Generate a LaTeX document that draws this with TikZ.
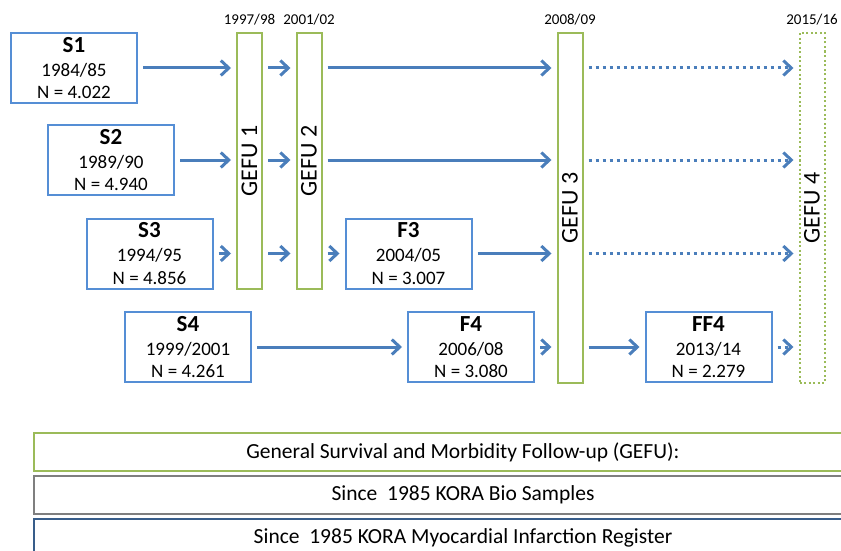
\documentclass[tikz,border=0pt]{standalone}
\usepackage{fontspec}
\setmainfont{Carlito}
\usepackage{graphicx}
\usepackage{tikz}
\usetikzlibrary{positioning,arrows.meta}
\definecolor{boxblue}{RGB}{85,142,213}
\definecolor{arrblue}{RGB}{74,126,187}
\definecolor{gefugreen}{RGB}{155,187,89}
\definecolor{regblue}{RGB}{56,93,138}
\definecolor{biogrey}{RGB}{127,127,127}
\tikzstyle{study} = [draw=boxblue, line width=2pt, fill=white, minimum width=126pt, minimum height=70pt, inner sep=0pt, align=center, font=\fontsize{19}{22.5}\selectfont]
\tikzstyle{gefu} = [draw=gefugreen, line width=2pt, minimum width=25pt, inner sep=0pt, font=\fontsize{24}{24}\selectfont]
\tikzstyle{gefuplan} = [gefu, dash pattern=on 2pt off 2.5pt]
\tikzstyle{year} = [inner sep=0pt, font=\fontsize{15}{15}\selectfont]
\tikzstyle{band} = [line width=2.5pt, minimum width=858pt, minimum height=38pt, inner sep=0pt, font=\fontsize{21.5}{21.5}\selectfont]
\tikzstyle{arrow} = [draw=arrblue, line width=3pt, -{Straight Barb[length=8pt,width=15pt]}, shorten <=5pt, shorten >=5pt]
\tikzstyle{dotarrow} = [arrow, dash pattern=on 3pt off 4pt]
\newcommand{\studyhead}[1]{{\fontsize{23}{23}\selectfont\bfseries #1}}

\begin{document}
\begin{tikzpicture}[x=1pt, y=-1pt]
    \useasboundingbox (0,0) rectangle (841,551);
    \clip (0,0) rectangle (841,551);

    % surveys and follow-ups
    \node[study] (S1) at (74,68) {\studyhead{S1}\\[1.5pt]1984/85\\N = 4.022};
    \node[study] (S2) at (111,160) {\studyhead{S2}\\[1.5pt]1989/90\\N = 4.940};
    \node[study] (S3) at (149.5,253.5) {\studyhead{S3}\\[1.5pt]1994/95\\N = 4.856};
    \node[study] (S4) at (188,347) {\studyhead{S4}\\[1.5pt]1999/2001\\N = 4.261};
    \node[study] (F3) at (408.5,253.5) {\studyhead{F3}\\[1.5pt]2004/05\\N = 3.007};
    \node[study] (F4) at (471,347) {\studyhead{F4}\\[1.5pt]2006/08\\N = 3.080};
    \node[study] (FF4) at (708.5,347) {\studyhead{FF4}\\[1.5pt]2013/14\\N = 2.279};

    % GEFU bars
    \node[gefu, minimum height=256pt] (G1) at (249.5,161) {\rotatebox{90}{GEFU 1}};
    \node[gefu, minimum height=256pt] (G2) at (309,161) {\rotatebox{90}{GEFU 2}};
    \node[gefu, minimum height=350pt] (G3) at (570,208) {\rotatebox{90}{GEFU 3}};
    \node[gefuplan, minimum height=350pt] (G4) at (812,208) {\rotatebox{90}{GEFU 4}};
    \node[year, above=7pt of G1] (Y1) {1997/98};
    \node[year, above=7pt of G2] (Y2) {2001/02};
    \node[year, above=7pt of G3] (Y3) {2008/09};
    \node[year, above=7pt of G4] (Y4) {2015/16};

    \draw[arrow] (S1) -- (S1 -| G1.west);
    \draw[arrow] (S1 -| G1.east) -- (S1 -| G2.west);
    \draw[arrow] (S1 -| G2.east) -- (S1 -| G3.west);
    \draw[dotarrow] (S1 -| G3.east) -- (S1 -| G4.west);

    \draw[arrow] (S2) -- (S2 -| G1.west);
    \draw[arrow] (S2 -| G1.east) -- (S2 -| G2.west);
    \draw[arrow] (S2 -| G2.east) -- (S2 -| G3.west);
    \draw[dotarrow] (S2 -| G3.east) -- (S2 -| G4.west);

    \draw[arrow] (S3) -- (S3 -| G1.west);
    \draw[arrow] (S3 -| G1.east) -- (S3 -| G2.west);
    \draw[arrow] (S3 -| G2.east) -- (F3);
    \draw[arrow] (F3) -- (F3 -| G3.west);
    \draw[dotarrow] (F3 -| G3.east) -- (F3 -| G4.west);

    \draw[arrow] (S4) -- (F4);
    \draw[arrow] (F4) -- (F4 -| G3.west);
    \draw[arrow] (F4 -| G3.east) -- (FF4);
    \draw[dotarrow] (FF4) -- (FF4 -| G4.west);

    % legend bands
    \node[band, draw=gefugreen] (gefuband) at (463,452) {General Survival and Morbidity Follow-up (GEFU):};
    \node[band, draw=biogrey] (bioband) at (463,495) {Since~~1985 KORA Bio Samples};
    \node[band, draw=regblue] (regband) at (463,538) {Since~~1985 KORA Myocardial Infarction Register};
\end{tikzpicture}
\end{document}
